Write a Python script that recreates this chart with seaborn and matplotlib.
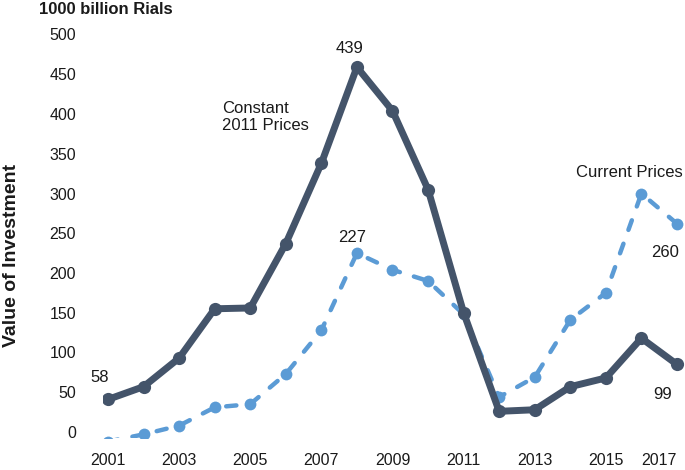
#!/usr/bin/env python3

# Value of investment, constant 2011 prices vs current prices.
import matplotlib

matplotlib.use("Agg")
import matplotlib.pyplot as plt
import pandas
import seaborn as sns

# Values (1000 billion Rials)
years = list(range(2001, 2018))
constant_prices = [41, 57, 93, 155, 156, 237, 338, 459, 404, 305,
                   150, 26, 28, 57, 68, 118, 85]
current_prices = [-12, -3, 8, 31, 35, 73, 128, 225, 204, 190,
                  148, 44, 69, 141, 175, 300, 262]
tick_years = [2001, 2003, 2005, 2007, 2009, 2011, 2013, 2015, 2017]
y_ticks = [0, 50, 100, 150, 200, 250, 300, 350, 400, 450, 500]

dark = "#44546A"
light = "#5B9BD5"

sns.set_theme(style="white")
plt.rcParams["font.family"] = ["Liberation Sans", "DejaVu Sans"]

df = pandas.DataFrame(
    {"year": years, "constant": constant_prices, "current": current_prices}
)

W, H = 685, 470
fig = plt.figure(figsize=(W / 100, H / 100), dpi=100)
# axes box in pixels: left 103, right 685, top 30, bottom 438
ax = fig.add_axes([103 / W, 1 - 438 / H, (685 - 103) / W, (438 - 30) / H])

sns.lineplot(
    data=df, x="year", y="current", ax=ax, color=light, linewidth=3.2,
    linestyle=(0, (2.3, 3.3)), dash_capstyle="round",
    marker="o", markersize=8.5, markeredgewidth=0, zorder=2,
)
sns.lineplot(
    data=df, x="year", y="constant", ax=ax, color=dark, linewidth=5,
    solid_joinstyle="round", marker="o", markersize=9.5,
    markeredgewidth=0, zorder=3,
)

px_per_year = 35.56
px_per_unit = 0.795
ax.set_xlim(2001 - (108 - 103) / px_per_year, 2017 + (685 - 677) / px_per_year)
ax.set_ylim(-(438 - 432) / px_per_unit, (432 - 30) / px_per_unit)

ax.set_xticks(tick_years)
ax.set_xticklabels([str(y) for y in tick_years])
ax.set_yticks(y_ticks)
ax.tick_params(axis="x", length=0, pad=11, labelsize=11.5, colors="#1a1a1a")
ax.tick_params(axis="y", length=0, pad=19.5, labelsize=11.5, colors="#1a1a1a")
ax.get_xticklabels()[-1].set_horizontalalignment("right")
for s in ax.spines.values():
    s.set_visible(False)
ax.grid(False)

ax.set_xlabel("")
ax.set_ylabel("Value of Investment", fontsize=14, fontweight="bold", color="#1a1a1a")
ax.yaxis.set_label_coords(-0.1426, 0.4485)

fig.text(39 / W, 1 - 10 / H, "1000 billion Rials", fontsize=12,
         fontweight="bold", ha="left", va="center", color="#1a1a1a")

# value labels, offset (points) from their markers
labels = [
    ("58", years[0], constant_prices[0], (-5.8, 15.8)),
    ("439", years[7], constant_prices[7], (-5, 13.7)),
    ("227", years[7], current_prices[7], (-3.6, 11.5)),
    ("260", years[-1], current_prices[-1], (-8.6, -20.9)),
    ("99", years[-1], constant_prices[-1], (-10, -21.6)),
]
for text, x, y, off in labels:
    ax.annotate(text, (x, y), xytext=off, textcoords="offset points",
                ha="center", va="center", fontsize=12, color="#1a1a1a",
                annotation_clip=False)

ax.text(2004.2, 396, "Constant\n2011 Prices", fontsize=12, ha="left",
        va="center", linespacing=1.15, color="#1a1a1a")
ax.text(2017.17, 327, "Current Prices", fontsize=12, ha="right",
        va="center", color="#1a1a1a")

plt.savefig("out.png", dpi=100)
plt.close()
